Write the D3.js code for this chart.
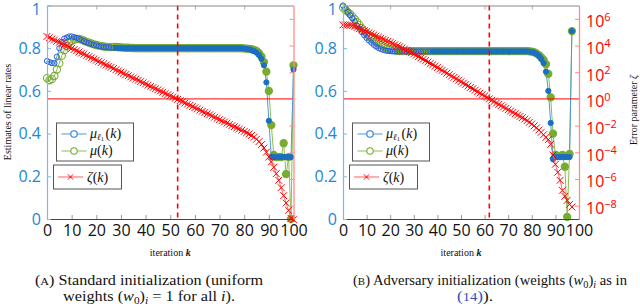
<!DOCTYPE html>
<html>
<head>
<meta charset="utf-8">
<script src="https://cdn.jsdelivr.net/npm/d3@7"></script>
<style>
  body { margin: 0; background: #fff; }
  svg { display: block; }
  .tick text { font-family: "Open Sans", sans-serif; }
  .serif { font-family: "Liberation Serif", "DejaVu Serif", serif; }
</style>
</head>
<body>
<svg id="chart" width="640" height="306"></svg>
<script>

// ---- data, one value per iteration k ----

// (A) standard initialization, k = 0..100
const muL1Std = [
  0.74, 0.735, 0.73, 0.73, 0.76, 0.80, 0.83, 0.845, 0.85, 0.855,
  0.855, 0.852, 0.848, 0.843, 0.838, 0.833, 0.828, 0.824, 0.82, 0.816,
  0.813, 0.81, 0.808, 0.806, 0.805, 0.804, 0.803, 0.802, 0.801, 0.80,
  0.80, 0.80, 0.80, 0.80, 0.80, 0.80, 0.80, 0.80, 0.80, 0.80,
  0.80, 0.80, 0.80, 0.80, 0.80, 0.80, 0.80, 0.80, 0.80, 0.80,
  0.80, 0.80, 0.80, 0.80, 0.80, 0.80, 0.80, 0.80, 0.80, 0.80,
  0.80, 0.80, 0.80, 0.80, 0.80, 0.80, 0.80, 0.80, 0.80, 0.80,
  0.80, 0.80, 0.80, 0.80, 0.80, 0.80, 0.80, 0.80, 0.80, 0.799,
  0.798, 0.797, 0.795, 0.791, 0.786, 0.779, 0.768, 0.75, 0.72, 0.64,
  0.46, 0.29, 0.29, 0.29, 0.29, 0.29, 0.29, 0.29, 0.29, 0.29,
  0.70
];
const muStd = [
  0.66, 0.65, 0.655, 0.67, 0.70, 0.73, 0.765, 0.79, 0.81, 0.825,
  0.835, 0.84, 0.843, 0.843, 0.84, 0.835, 0.83, 0.826, 0.822, 0.818,
  0.815, 0.812, 0.81, 0.808, 0.806, 0.805, 0.805, 0.806, 0.806, 0.805,
  0.804, 0.803, 0.802, 0.802, 0.801, 0.801, 0.80, 0.80, 0.80, 0.80,
  0.80, 0.80, 0.80, 0.80, 0.80, 0.80, 0.80, 0.80, 0.80, 0.80,
  0.80, 0.80, 0.80, 0.80, 0.80, 0.80, 0.80, 0.80, 0.80, 0.80,
  0.80, 0.80, 0.80, 0.80, 0.80, 0.80, 0.80, 0.80, 0.80, 0.80,
  0.80, 0.80, 0.80, 0.80, 0.80, 0.80, 0.80, 0.80, 0.80, 0.80,
  0.799, 0.798, 0.797, 0.795, 0.792, 0.787, 0.777, 0.762, 0.735, 0.69,
  0.60, 0.44, 0.30, 0.29, 0.29, 0.29, 0.355, 0.21, 0.29, 0.0,
  0.72
];
// log10 of zeta(k)
const zetaExpStd = [
  4.68, 4.59, 4.50, 4.41, 4.32, 4.24, 4.15, 4.06, 3.97, 3.88,
  3.79, 3.70, 3.61, 3.52, 3.43, 3.35, 3.26, 3.17, 3.08, 2.99,
  2.90, 2.81, 2.72, 2.63, 2.54, 2.46, 2.37, 2.28, 2.19, 2.10,
  2.01, 1.92, 1.83, 1.74, 1.65, 1.57, 1.48, 1.39, 1.30, 1.21,
  1.12, 1.03, 0.94, 0.85, 0.76, 0.68, 0.59, 0.50, 0.41, 0.32,
  0.23, 0.14, 0.05, -0.04, -0.13, -0.21, -0.30, -0.39, -0.48, -0.57,
  -0.66, -0.75, -0.84, -0.93, -1.02, -1.11, -1.19, -1.28, -1.37, -1.46,
  -1.55, -1.64, -1.73, -1.82, -1.91, -2.00, -2.08, -2.17, -2.26, -2.35,
  -2.44, -2.53, -2.63, -2.74, -2.87, -3.02, -3.20, -3.42, -3.68, -3.99,
  -4.35, -4.72, -5.12, -5.60, -6.10, -6.65, -7.25, -7.80, -8.35, -8.95,
  -9.05
];

// (B) adversary initialization, k = 0..97
const muL1Adv = [
  1.0, 0.985, 0.97, 0.955, 0.94, 0.925, 0.905, 0.89, 0.875, 0.86,
  0.848, 0.836, 0.826, 0.816, 0.808, 0.801, 0.796, 0.792, 0.789, 0.787,
  0.786, 0.785, 0.785, 0.785, 0.785, 0.785, 0.785, 0.785, 0.785, 0.785,
  0.785, 0.785, 0.785, 0.785, 0.785, 0.785, 0.785, 0.785, 0.785, 0.785,
  0.785, 0.785, 0.785, 0.785, 0.785, 0.785, 0.785, 0.785, 0.785, 0.785,
  0.785, 0.785, 0.785, 0.785, 0.785, 0.785, 0.785, 0.785, 0.785, 0.785,
  0.785, 0.785, 0.785, 0.785, 0.785, 0.785, 0.785, 0.785, 0.785, 0.785,
  0.785, 0.785, 0.785, 0.785, 0.785, 0.785, 0.785, 0.785, 0.785, 0.784,
  0.783, 0.779, 0.773, 0.764, 0.75, 0.73, 0.69, 0.60, 0.45, 0.28,
  0.29, 0.29, 0.29, 0.29, 0.29, 0.29, 0.29, 0.88
];
const muAdv = [
  0.99, 0.98, 0.97, 0.96, 0.948, 0.936, 0.922, 0.908, 0.894, 0.88,
  0.868, 0.857, 0.847, 0.838, 0.83, 0.823, 0.816, 0.81, 0.804, 0.799,
  0.795, 0.792, 0.79, 0.788, 0.787, 0.786, 0.786, 0.786, 0.786, 0.786,
  0.786, 0.786, 0.786, 0.786, 0.786, 0.786, 0.786, 0.786, 0.786, 0.786,
  0.786, 0.786, 0.786, 0.786, 0.786, 0.786, 0.786, 0.786, 0.786, 0.786,
  0.786, 0.786, 0.786, 0.786, 0.786, 0.786, 0.786, 0.786, 0.786, 0.786,
  0.786, 0.786, 0.786, 0.786, 0.786, 0.786, 0.786, 0.786, 0.786, 0.786,
  0.786, 0.786, 0.786, 0.786, 0.786, 0.786, 0.786, 0.786, 0.786, 0.785,
  0.784, 0.781, 0.776, 0.768, 0.757, 0.745, 0.725, 0.68, 0.57, 0.40,
  0.30, 0.295, 0.295, 0.30, 0.245, 0.01, 0.305, 0.88
];
const zetaExpAdv = [
  5.55, 5.55, 5.54, 5.52, 5.48, 5.42, 5.35, 5.27, 5.19, 5.11,
  5.03, 4.95, 4.87, 4.79, 4.71, 4.63, 4.55, 4.47, 4.39, 4.31,
  4.23, 4.15, 4.07, 3.99, 3.91, 3.82, 3.73, 3.64, 3.55, 3.46,
  3.37, 3.27, 3.17, 3.07, 2.97, 2.87, 2.77, 2.66, 2.56, 2.45,
  2.35, 2.24, 2.14, 2.03, 1.93, 1.82, 1.71, 1.61, 1.50, 1.40,
  1.29, 1.18, 1.08, 0.97, 0.86, 0.76, 0.65, 0.54, 0.43, 0.33,
  0.22, 0.11, 0.00, -0.10, -0.20, -0.31, -0.41, -0.51, -0.61, -0.71,
  -0.81, -0.91, -1.01, -1.11, -1.21, -1.31, -1.41, -1.52, -1.63, -1.75,
  -1.88, -2.02, -2.17, -2.33, -2.50, -2.68, -2.88, -3.05, -3.40, -4.20,
  -4.90, -5.50, -6.10, -6.85, -7.30, -7.60, -7.90, -8.10
];

// iteration where zeta crosses 1 (dashed marker)
const crossStd = 53;
const crossAdv = 62;

// tick values
const xTicks = d3.range(0, 101, 10);
const xTopTicks = [20, 40, 60, 80];
const yTicks = [0, 0.2, 0.4, 0.6, 0.8, 1];
const zTickExps = [-8, -6, -4, -2, 0, 2, 4, 6];

// colours
const cBlue = "#1a6fc2", cBlueLine = "#4b9ad9", cBlueAxis = "#7db9e8", cBlueText = "#2186d4";
const cGreen = "#77ac30", cGreenLine = "#8dbd52";
const cRed = "#ff0000", cRedLine = "#ff5a5a", cRedAxis = "#ff8a8a";

const svg = d3.select("#chart");
const plotTop = 5.5, plotBottom = 219;

function drawPanel(p) {
  const x = d3.scaleLinear().domain([0, 100]).range([p.left, p.right]);
  const y = d3.scaleLinear().domain([0, 1]).range([plotBottom, plotTop]);
  const z = d3.scaleLog().domain([1e-9, 1e7]).range([plotBottom, plotTop]);

  const g = svg.append("g");

  const blue = p.muL1.map((v, k) => ({k, v}));
  const green = p.mu.map((v, k) => ({k, v}));
  const zeta = p.zetaExp.map((e, k) => ({k, v: Math.pow(10, e)}));

  // connecting lines
  const lineY = d3.line().x(d => x(d.k)).y(d => y(d.v));
  const lineZ = d3.line().x(d => x(d.k)).y(d => Math.min(z(d.v), plotBottom + 1));

  g.append("path").datum(green).attr("d", lineY)
    .attr("fill", "none").attr("stroke", cGreenLine).attr("stroke-width", 1);
  g.append("path").datum(blue).attr("d", lineY)
    .attr("fill", "none").attr("stroke", cBlueLine).attr("stroke-width", 1);

  // markers: open circles early, solid once the estimates settle
  g.append("g").selectAll("circle").data(green).join("circle")
    .attr("cx", d => x(d.k)).attr("cy", d => y(d.v)).attr("r", 3.6)
    .attr("fill", d => d.k >= p.solidFrom ? cGreen : "none")
    .attr("stroke", cGreen).attr("stroke-width", 1.1);
  g.append("g").selectAll("circle").data(blue).join("circle")
    .attr("cx", d => x(d.k)).attr("cy", d => y(d.v)).attr("r", 2.6)
    .attr("fill", d => d.k >= p.solidFrom ? cBlue : "none")
    .attr("stroke", d => d.k >= p.solidFrom ? cBlue : "#2a5fd8").attr("stroke-width", 1);

  // zeta
  g.append("path").datum(zeta).attr("d", lineZ)
    .attr("fill", "none").attr("stroke", cRedLine).attr("stroke-width", 0.9);
  const s = 3.4;
  g.append("g").selectAll("path").data(zeta).join("path")
    .attr("transform", d => `translate(${x(d.k)},${Math.min(z(d.v), plotBottom + 1)})`)
    .attr("d", `M${-s},${-s}L${s},${s}M${-s},${s}L${s},${-s}`)
    .attr("stroke", cRed).attr("stroke-width", 1);

  // reference lines: zeta = 1 and the crossing iteration
  g.append("line")
    .attr("x1", p.left).attr("x2", p.right).attr("y1", z(1)).attr("y2", z(1))
    .attr("stroke", cRed).attr("stroke-width", 1);
  g.append("line")
    .attr("x1", x(p.cross)).attr("x2", x(p.cross)).attr("y1", plotTop).attr("y2", plotBottom)
    .attr("stroke", cRed).attr("stroke-width", 1.6).attr("stroke-dasharray", "5,4");

  // axes
  const axB = g.append("g").attr("transform", `translate(0,${plotBottom})`)
    .call(d3.axisBottom(x).tickValues(xTicks).tickSizeInner(-4).tickSizeOuter(0).tickPadding(6));
  axB.select(".domain").attr("stroke", "#444");
  axB.selectAll(".tick line").attr("stroke", "#999");
  axB.selectAll(".tick text").attr("font-size", 16).attr("fill", "#111");

  const axT = g.append("g").attr("transform", `translate(0,${plotTop})`)
    .call(d3.axisTop(x).tickValues(xTopTicks).tickSizeInner(-4).tickSizeOuter(0).tickFormat(""));
  axT.select(".domain").attr("stroke", "#888");
  axT.selectAll(".tick line").attr("stroke", "#aaa");

  const axL = g.append("g").attr("transform", `translate(${p.left},0)`)
    .call(d3.axisLeft(y).tickValues(yTicks).tickSizeInner(-4).tickSizeOuter(0).tickPadding(6)
      .tickFormat(d => d === 0 || d === 1 ? d3.format("d")(d) : d3.format(".1f")(d)));
  axL.select(".domain").attr("stroke", cBlueAxis).attr("stroke-width", 1.2);
  axL.selectAll(".tick line").attr("stroke", cBlueAxis);
  axL.selectAll(".tick text").attr("font-size", 16).attr("fill", cBlueText)
    .attr("dy", d => d === 1 ? "0.55em" : "0.32em");

  const axR = g.append("g").attr("transform", `translate(${p.right},0)`)
    .call(d3.axisRight(z).tickValues(zTickExps.map(e => Math.pow(10, e)))
      .tickSizeInner(-4).tickSizeOuter(0).tickPadding(7));
  axR.select(".domain").attr("stroke", cRedAxis).attr("stroke-width", 1.3);
  axR.selectAll(".tick line").attr("stroke", cRedAxis);
  if (p.rightLabels) {
    axR.selectAll(".tick text").each(function(d) {
      const e = Math.round(Math.log10(d));
      const t = d3.select(this).text(null).attr("font-size", 16).attr("fill", cRed).attr("dy", "0.5em");
      t.append("tspan").text("10");
      t.append("tspan").attr("dy", "-0.6em").attr("font-size", 11).text(e < 0 ? "\u2212" + (-e) : e);
    });
  } else {
    axR.selectAll(".tick text").remove();
  }

  // x label
  const xl = g.append("text").attr("class", "serif")
    .attr("x", (p.left + p.right) / 2).attr("y", 256)
    .attr("text-anchor", "middle").attr("font-size", 10).attr("fill", "#111");
  xl.append("tspan").text("iteration ");
  xl.append("tspan").attr("font-style", "italic").attr("font-weight", "bold").text("k");

  // legends
  const lg = g.append("g").attr("class", "serif").attr("font-size", 14).attr("fill", "#111");
  lg.append("rect").attr("x", p.left + 9.5).attr("y", 123).attr("width", 77).attr("height", 38)
    .attr("fill", "#fff").attr("stroke", "#555").attr("stroke-width", 1);
  const entries = [
    {y: 134, line: cBlueLine, mark: "#2a7fd4", sub: true},
    {y: 151, line: cGreenLine, mark: cGreen, sub: false}
  ];
  entries.forEach(en => {
    lg.append("line").attr("x1", p.left + 14.5).attr("x2", p.left + 39.5)
      .attr("y1", en.y).attr("y2", en.y).attr("stroke", en.line).attr("stroke-width", 1);
    lg.append("circle").attr("cx", p.left + 27).attr("cy", en.y).attr("r", 3.2)
      .attr("fill", "#fff").attr("stroke", en.mark).attr("stroke-width", 1.1);
    const t = lg.append("text").attr("x", p.left + 43).attr("y", en.y + 4);
    t.append("tspan").attr("font-style", "italic").text("\u03bc");
    if (en.sub) {
      t.append("tspan").attr("font-size", 9).attr("font-style", "italic").attr("dy", 2).text("\u2113");
      t.append("tspan").attr("font-size", 6.5).attr("dy", 1).text("1");
      t.append("tspan").attr("dy", -3).attr("dx", 1.5).text("(");
    } else {
      t.append("tspan").text("(");
    }
    t.append("tspan").attr("font-style", "italic").text("k");
    t.append("tspan").text(")");
  });

  lg.append("rect").attr("x", p.left + 6.5).attr("y", 165).attr("width", 68).attr("height", 24)
    .attr("fill", "#fff").attr("stroke", "#555").attr("stroke-width", 1);
  lg.append("line").attr("x1", p.left + 11).attr("x2", p.left + 36)
    .attr("y1", 177).attr("y2", 177).attr("stroke", cRedLine).attr("stroke-width", 1);
  lg.append("path").attr("transform", `translate(${p.left + 23.5},177)`)
    .attr("d", "M-2.6,-2.6L2.6,2.6M-2.6,2.6L2.6,-2.6").attr("stroke", cRed).attr("stroke-width", 1);
  const tz = lg.append("text").attr("x", p.left + 40).attr("y", 181.5);
  tz.append("tspan").attr("font-style", "italic").text("\u03b6");
  tz.append("tspan").text("(");
  tz.append("tspan").attr("font-style", "italic").text("k");
  tz.append("tspan").text(")");
}

drawPanel({left: 47, right: 293.5, muL1: muL1Std, mu: muStd, zetaExp: zetaExpStd,
  cross: crossStd, solidFrom: 28, rightLabels: false});
drawPanel({left: 343, right: 579, muL1: muL1Adv, mu: muAdv, zetaExp: zetaExpAdv,
  cross: crossAdv, solidFrom: 38, rightLabels: true});

// axis titles
svg.append("text").attr("class", "serif")
  .attr("transform", "translate(11,112) rotate(-90)")
  .attr("text-anchor", "middle").attr("font-size", 10).attr("fill", "#111")
  .text("Estimates of linear rates");
const zl = svg.append("text").attr("class", "serif")
  .attr("transform", "translate(637,110) rotate(-90)")
  .attr("text-anchor", "middle").attr("font-size", 10).attr("fill", "#111");
zl.append("tspan").text("Error parameter ");
zl.append("tspan").attr("font-style", "italic").text("\u03b6");

// captions (widths taken from the figure: first lines are justified)
const cap = svg.append("g").attr("class", "serif").attr("font-size", 15).attr("fill", "#111");

let t = cap.append("text").attr("x", 35).attr("y", 285)
  .attr("textLength", 228).attr("lengthAdjust", "spacingAndGlyphs");
t.append("tspan").text("(");
t.append("tspan").attr("font-size", "0.75em").text("A");
t.append("tspan").text(") Standard initialization (uniform");

t = cap.append("text").attr("x", 63).attr("y", 301)
  .attr("textLength", 172).attr("lengthAdjust", "spacingAndGlyphs");
t.append("tspan").text("weights (");
t.append("tspan").attr("font-style", "italic").text("w");
t.append("tspan").attr("font-size", "0.7em").attr("dy", 3).text("0");
t.append("tspan").attr("dy", -3).text(")");
t.append("tspan").attr("font-size", "0.7em").attr("font-style", "italic").attr("dy", 3).text("i");
t.append("tspan").attr("dy", -3).text(" = 1 for all ");
t.append("tspan").attr("font-style", "italic").text("i");
t.append("tspan").text(").");

t = cap.append("text").attr("x", 353).attr("y", 285)
  .attr("textLength", 274).attr("lengthAdjust", "spacingAndGlyphs");
t.append("tspan").text("(");
t.append("tspan").attr("font-size", "0.75em").text("B");
t.append("tspan").text(") Adversary initialization (weights (");
t.append("tspan").attr("font-style", "italic").text("w");
t.append("tspan").attr("font-size", "0.7em").attr("dy", 3).text("0");
t.append("tspan").attr("dy", -3).text(")");
t.append("tspan").attr("font-size", "0.7em").attr("font-style", "italic").attr("dy", 3).text("i");
t.append("tspan").attr("dy", -3).text(" as in");

t = cap.append("text").attr("x", 457).attr("y", 301)
  .attr("textLength", 36).attr("lengthAdjust", "spacingAndGlyphs");
t.append("tspan").attr("fill", "#2f4fbf").text("(");
t.append("tspan").attr("fill", "#2f4fbf").attr("font-size", "0.85em").text("14");
t.append("tspan").attr("fill", "#2f4fbf").text(")");
t.append("tspan").text(").");

</script>
</body>
</html>
